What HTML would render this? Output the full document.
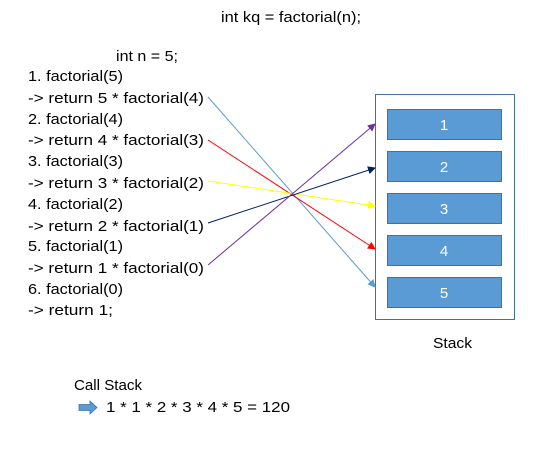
<!DOCTYPE html>
<html><head><meta charset="utf-8"><style>
html,body{margin:0;padding:0;background:#fff;}
text{font-family:"Liberation Sans",sans-serif;font-size:15px;fill:#000;}
</style></head><body>
<svg width="549" height="463" viewBox="0 0 549 463" xmlns="http://www.w3.org/2000/svg">
<defs>
<marker id="a1" markerWidth="8" markerHeight="8" refX="7" refY="4" orient="auto" markerUnits="userSpaceOnUse"><path d="M0,0 L8,4 L0,8 z" fill="#5b9bd5"/></marker>
<marker id="a2" markerWidth="8" markerHeight="8" refX="7" refY="4" orient="auto" markerUnits="userSpaceOnUse"><path d="M0,0 L8,4 L0,8 z" fill="#ff0000"/></marker>
<marker id="a3" markerWidth="8" markerHeight="8" refX="7" refY="4" orient="auto" markerUnits="userSpaceOnUse"><path d="M0,0 L8,4 L0,8 z" fill="#ffff00"/></marker>
<marker id="a4" markerWidth="8" markerHeight="8" refX="7" refY="4" orient="auto" markerUnits="userSpaceOnUse"><path d="M0,0 L8,4 L0,8 z" fill="#002060"/></marker>
<marker id="a5" markerWidth="8" markerHeight="8" refX="7" refY="4" orient="auto" markerUnits="userSpaceOnUse"><path d="M0,0 L8,4 L0,8 z" fill="#7030a0"/></marker>
</defs>
<text x="221" y="22" textLength="140" lengthAdjust="spacingAndGlyphs">int kq = factorial(n);</text>
<text x="116" y="61" textLength="62" lengthAdjust="spacingAndGlyphs">int n = 5;</text>
<g>
<text x="28" y="81" textLength="95" lengthAdjust="spacingAndGlyphs">1. factorial(5)</text>
<text x="28" y="103" textLength="176" lengthAdjust="spacingAndGlyphs">-&gt;  return 5 * factorial(4)</text>
<text x="28" y="124" textLength="95" lengthAdjust="spacingAndGlyphs">2. factorial(4)</text>
<text x="28" y="145" textLength="176" lengthAdjust="spacingAndGlyphs">-&gt;  return 4 * factorial(3)</text>
<text x="28" y="166" textLength="95" lengthAdjust="spacingAndGlyphs">3. factorial(3)</text>
<text x="28" y="188" textLength="176" lengthAdjust="spacingAndGlyphs">-&gt;  return 3 * factorial(2)</text>
<text x="28" y="209" textLength="95" lengthAdjust="spacingAndGlyphs">4. factorial(2)</text>
<text x="28" y="231" textLength="176" lengthAdjust="spacingAndGlyphs">-&gt;  return 2 * factorial(1)</text>
<text x="28" y="251" textLength="95" lengthAdjust="spacingAndGlyphs">5. factorial(1)</text>
<text x="28" y="273" textLength="176" lengthAdjust="spacingAndGlyphs">-&gt;  return 1 * factorial(0)</text>
<text x="28" y="294" textLength="95" lengthAdjust="spacingAndGlyphs">6. factorial(0)</text>
<text x="28" y="315" textLength="85" lengthAdjust="spacingAndGlyphs">-&gt;  return 1;</text>
</g>
<rect x="375.5" y="94.5" width="139" height="225" fill="#fff" stroke="#41719c" stroke-width="1"/>
<g fill="#5b9bd5" stroke="#41719c" stroke-width="1">
<rect x="387.5" y="109.5" width="114" height="30"/>
<rect x="387.5" y="151.5" width="114" height="30"/>
<rect x="387.5" y="193.5" width="114" height="30"/>
<rect x="387.5" y="235.5" width="114" height="30"/>
<rect x="387.5" y="277.5" width="114" height="30"/>
</g>
<g style="font-size:15px" text-anchor="middle">
<text x="444" y="130" style="fill:#fff">1</text>
<text x="444" y="172" style="fill:#fff">2</text>
<text x="444" y="214" style="fill:#fff">3</text>
<text x="444" y="256" style="fill:#fff">4</text>
<text x="444" y="298" style="fill:#fff">5</text>
</g>
<line x1="208" y1="97" x2="375" y2="287" stroke="#5b9bd5" stroke-width="1" marker-end="url(#a1)"/>
<line x1="208" y1="140" x2="375" y2="249" stroke="#ff0000" stroke-width="1" marker-end="url(#a2)"/>
<line x1="208" y1="181" x2="375" y2="206" stroke="#ffff00" stroke-width="1" marker-end="url(#a3)"/>
<line x1="208" y1="223" x2="375" y2="168" stroke="#002060" stroke-width="1" marker-end="url(#a4)"/>
<line x1="208" y1="265" x2="375" y2="124" stroke="#7030a0" stroke-width="1" marker-end="url(#a5)"/>
<text x="433" y="348" textLength="39" lengthAdjust="spacingAndGlyphs">Stack</text>
<text x="74" y="390" textLength="68" lengthAdjust="spacingAndGlyphs">Call Stack</text>
<path d="M79,404.5 L90,404.5 L90,401 L97,407.5 L90,414 L90,410.5 L79,410.5 z" fill="#5b9bd5" stroke="#41719c" stroke-width="0.8"/>
<text x="106" y="412" textLength="184" lengthAdjust="spacingAndGlyphs">1 * 1 * 2 * 3 * 4 * 5 = 120</text>
</svg>
</body></html>
